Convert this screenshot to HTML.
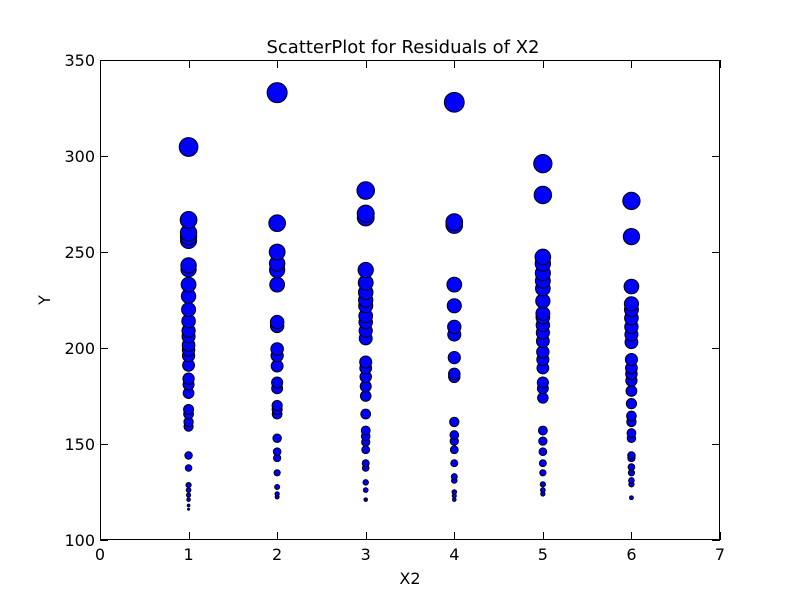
<!DOCTYPE html>
<html><head><meta charset="utf-8"><style>
body{margin:0;background:#fff}
svg text{font-family:"DejaVu Sans","Liberation Sans",sans-serif;fill:#000}
</style></head><body>
<svg id="chart" width="800" height="600" xmlns="http://www.w3.org/2000/svg">
<rect width="800" height="600" fill="#fff"/>
<text x="403" y="53" font-size="18" text-anchor="middle">ScatterPlot for Residuals of X2</text>
<text x="410" y="584" font-size="16" text-anchor="middle">X2</text>
<text x="50" y="300" font-size="16" text-anchor="middle" transform="rotate(-90 50 300)">Y</text>
<g id="points"></g>
<g id="axes"></g>
</svg>
<script>
const xTicks=[0,1,2,3,4,5,6,7];
const yTicks=[100,150,200,250,300,350];
const col1=[304.7,266.7,260,258,256,243,241,233,227,220,214,209,206,201.5,199,196,191,184,181,176.5,168,165.6,161.5,159,144,137.5,128.6,126,123.4,121,118,116];
const col2=[333,265,250,244,240.6,233,213.5,211.5,199.5,196,190.6,182,179,170,168,165.6,153,146,142.7,135,127.6,124,122.4];
const col3=[282,270,268,240.6,234,229,225,222,216.7,213.5,209,205,192.7,189.6,185,180,175,165.6,157,154,151,147,140,137.5,130,126,121];
const col4=[328,265.6,264,233,222,211,207,195,186.5,185,161.5,154.7,151.5,147,140,133,131,125,123,121];
const col5=[296,279.7,247.4,244,239,235,231,224.5,218,216,212,208,203.6,198,194,189.6,182,179,174,157,151.5,146,140,135,129,126,124];
const col6=[276.6,258,232,223,220,215.6,211,207,203,194,189.6,186.5,183,177.6,171,164.6,161.5,155.7,153,144,142.7,138,135,131,129,122];
const columns=[col1,col2,col3,col4,col5,col6];
const L=100,R=720,T=60,B=540;
const xs=v=>L+(v-0)/(7-0)*(R-L);
const ys=v=>B-(v-100)/(350-100)*(B-T);
const NS="http://www.w3.org/2000/svg";
const pts=document.getElementById('points');
columns.forEach((col,i)=>{
  const sorted=col.slice().sort((a,b)=>a-b);
  sorted.forEach(v=>{
    const c=document.createElementNS(NS,'circle');
    
    
    c.setAttribute('cx',xs(i+1));c.setAttribute('cy',ys(v));
    c.setAttribute('r',Math.max(1,Math.sqrt(0.46*Math.max(v-114,1))));
    c.setAttribute('fill','#0000ff');c.setAttribute('stroke','#000');c.setAttribute('stroke-width','1');
    pts.appendChild(c);
  });
});
const ax=document.getElementById('axes');
function line(x1,y1,x2,y2,name){const l=document.createElementNS(NS,'line');
  
  
  l.setAttribute('x1',x1);l.setAttribute('y1',y1);l.setAttribute('x2',x2);l.setAttribute('y2',y2);
  l.setAttribute('stroke','#000');l.setAttribute('stroke-width','1');ax.appendChild(l);}
const fr=document.createElementNS(NS,'rect');


fr.setAttribute('x',L+0.5);fr.setAttribute('y',T+0.5);fr.setAttribute('width',R-L-1);fr.setAttribute('height',B-T-1);
fr.setAttribute('fill','none');fr.setAttribute('stroke','#000');ax.appendChild(fr);
xTicks.forEach(t=>{const x=Math.round(xs(t))+0.5;
  line(x,B,x,B-8,'x-tick');line(x,T,x,T+8,'x-tick');
  const tx=document.createElementNS(NS,'text');
  
  
  tx.setAttribute('x',xs(t));tx.setAttribute('y',B+20);tx.setAttribute('font-size','16');tx.setAttribute('text-anchor','middle');
  tx.textContent=t;ax.appendChild(tx);});
yTicks.forEach(t=>{const y=Math.round(ys(t))+0.5;
  line(L,y,L+8,y,'y-tick');line(R,y,R-8,y,'y-tick');
  const tx=document.createElementNS(NS,'text');
  
  
  tx.setAttribute('x',L-5);tx.setAttribute('y',ys(t)+6);tx.setAttribute('font-size','16');tx.setAttribute('text-anchor','end');
  tx.textContent=t;ax.appendChild(tx);});
</script>
</body></html>
